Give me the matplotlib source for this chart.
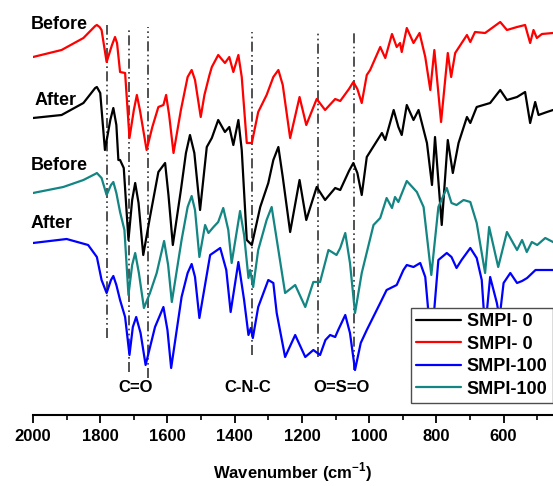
import numpy as np
import matplotlib
matplotlib.use('Agg')
import matplotlib.pyplot as plt
from matplotlib.ticker import MultipleLocator

plt.rcParams['font.family'] = ['Liberation Sans', 'DejaVu Sans']
plt.rcParams['font.weight'] = 'bold'
plt.rcParams['mathtext.fontset'] = 'custom'
plt.rcParams['mathtext.rm'] = 'Liberation Sans:bold'
plt.rcParams['mathtext.bf'] = 'Liberation Sans:bold'

# SMPI-0 before (red)
wn_red = [2000, 1915, 1850, 1815, 1810, 1802, 1796, 1781, 1765, 1756, 1750, 1741, 1726, 1713,
          1700, 1691, 1682, 1662, 1645, 1627, 1612, 1604, 1595, 1582, 1560, 1540, 1528, 1518,
          1501, 1490, 1475, 1468, 1449, 1429, 1416, 1404, 1389, 1379, 1364, 1349, 1330, 1305,
          1285, 1270, 1257, 1235, 1207, 1187, 1156, 1131, 1101, 1086, 1060, 1047, 1035, 1022,
          1007, 997, 967, 952, 932, 918, 908, 903, 888, 868, 850, 833, 818, 806, 786, 766, 756,
          744, 709, 699, 685, 655, 610, 590, 560, 536, 521, 511, 501, 486, 453]
t_red = [3.58, 3.65, 3.77, 3.89, 3.90, 3.88, 3.85, 3.53, 3.70, 3.78, 3.72, 3.43, 3.42, 2.77,
         3.05, 3.20, 3.05, 2.65, 2.88, 3.08, 3.10, 3.20, 3.00, 2.62, 3.05, 3.38, 3.45, 3.35,
         2.98, 3.20, 3.40, 3.48, 3.60, 3.52, 3.58, 3.43, 3.60, 3.38, 2.72, 2.72, 3.03, 3.20,
         3.38, 3.45, 3.30, 2.77, 3.18, 2.90, 3.16, 3.05, 3.16, 3.14, 3.26, 3.33, 3.26, 3.12,
         3.40, 3.45, 3.68, 3.57, 3.81, 3.68, 3.72, 3.63, 3.87, 3.72, 3.82, 3.58, 3.25, 3.65,
         2.93, 3.62, 3.38, 3.62, 3.80, 3.73, 3.83, 3.82, 3.93, 3.85, 3.88, 3.90, 3.72, 3.85,
         3.77, 3.81, 3.82]

# SMPI-0 after (black)
wn_blk = [2000, 1915, 1850, 1815, 1810, 1800, 1786, 1770, 1761, 1752, 1746, 1741, 1730, 1716,
          1705, 1696, 1686, 1672, 1652, 1627, 1607, 1597, 1584, 1560, 1545, 1533, 1520, 1503,
          1483, 1468, 1449, 1429, 1416, 1404, 1389, 1379, 1364, 1349, 1324, 1300, 1285, 1270,
          1257, 1235, 1207, 1187, 1156, 1131, 1101, 1086, 1060, 1047, 1035, 1022, 1007, 962,
          952, 927, 913, 903, 888, 868, 853, 828, 813, 804, 784, 766, 751, 734, 709, 699, 680,
          640, 610, 590, 560, 536, 521, 506, 496, 471, 453]
t_blk = [2.97, 3.00, 3.12, 3.27, 3.28, 3.22, 2.65, 2.95, 3.07, 2.90, 2.55, 2.55, 2.47, 1.75,
         2.15, 2.32, 2.12, 1.60, 1.98, 2.43, 2.52, 2.20, 1.70, 2.25, 2.62, 2.80, 2.62, 2.05,
         2.68, 2.77, 2.95, 2.83, 2.88, 2.70, 2.95, 2.65, 1.75, 1.70, 2.08, 2.32, 2.55, 2.68,
         2.38, 1.83, 2.35, 1.95, 2.28, 2.15, 2.27, 2.25, 2.44, 2.52, 2.42, 2.20, 2.58, 2.82,
         2.75, 3.05, 2.88, 2.80, 3.10, 2.95, 3.05, 2.72, 2.30, 2.78, 1.90, 2.75, 2.42, 2.72,
         2.98, 2.92, 3.08, 3.12, 3.25, 3.15, 3.18, 3.23, 2.92, 3.13, 3.00, 3.03, 3.05]

# SMPI-100 before (teal)
wn_teal = [2000, 1910, 1850, 1815, 1810, 1796, 1781, 1768, 1761, 1752, 1741, 1728, 1716, 1705,
           1696, 1685, 1670, 1652, 1632, 1610, 1598, 1587, 1558, 1540, 1528, 1518, 1505, 1488,
           1478, 1463, 1449, 1434, 1419, 1409, 1384, 1372, 1359, 1354, 1345, 1330, 1305, 1290,
           1270, 1250, 1220, 1190, 1166, 1146, 1121, 1111, 1097, 1086, 1071, 1057, 1042, 1022,
           987, 967, 948, 932, 923, 913, 888, 858, 838, 815, 794, 769, 755, 740, 719, 699, 680,
           655, 643, 616, 590, 560, 545, 531, 516, 500, 476, 453]
t_teal = [2.22, 2.28, 2.35, 2.41, 2.42, 2.37, 2.20, 2.30, 2.33, 2.22, 2.03, 1.85, 1.20, 1.50,
          1.62, 1.42, 1.07, 1.22, 1.42, 1.74, 1.50, 1.13, 1.75, 2.08, 2.19, 2.05, 1.58, 1.90,
          1.82, 1.88, 1.93, 2.07, 1.85, 1.52, 2.04, 1.80, 1.37, 1.45, 1.28, 1.65, 1.95, 2.08,
          1.65, 1.22, 1.30, 1.08, 1.33, 1.33, 1.65, 1.63, 1.60, 1.67, 1.82, 1.52, 1.02, 1.42,
          1.90, 1.97, 2.17, 2.07, 2.18, 2.13, 2.34, 2.23, 2.08, 1.40, 2.08, 2.27, 2.12, 2.10,
          2.15, 2.13, 1.92, 1.42, 1.88, 1.48, 1.83, 1.65, 1.75, 1.63, 1.73, 1.70, 1.77, 1.73]

# SMPI-100 after (blue)
wn_blue = [2000, 1900, 1836, 1810, 1796, 1781, 1768, 1761, 1752, 1741, 1726, 1713, 1703, 1693,
           1680, 1665, 1637, 1612, 1600, 1589, 1558, 1540, 1528, 1518, 1505, 1473, 1443, 1425,
           1412, 1389, 1372, 1359, 1352, 1346, 1330, 1300, 1285, 1275, 1250, 1220, 1190, 1166,
           1146, 1130, 1116, 1101, 1092, 1071, 1057, 1042, 1025, 1007, 967, 948, 918, 898, 888,
           868, 848, 833, 815, 794, 769, 755, 740, 725, 699, 680, 665, 655, 640, 620, 612, 600,
           580, 560, 545, 530, 505, 491, 453]
t_blue = [1.72, 1.76, 1.70, 1.58, 1.35, 1.22, 1.35, 1.39, 1.30, 1.15, 0.98, 0.60, 0.88, 0.98,
          0.82, 0.50, 0.88, 1.08, 0.85, 0.47, 1.18, 1.42, 1.51, 1.38, 0.97, 1.60, 1.67, 1.45,
          1.03, 1.53, 1.15, 0.80, 0.87, 0.77, 1.08, 1.35, 1.32, 1.02, 0.58, 0.80, 0.58, 0.65,
          0.60, 0.75, 0.80, 0.78, 0.85, 1.00, 0.82, 0.45, 0.72, 0.85, 1.12, 1.25, 1.30, 1.45,
          1.50, 1.48, 1.52, 1.38, 0.70, 1.55, 1.62, 1.58, 1.47, 1.55, 1.67, 1.57, 1.35, 0.85,
          1.38, 1.12, 0.97, 1.32, 1.42, 1.32, 1.34, 1.37, 1.45, 1.45, 1.45]

# marker lines (position, top, bottom) and group labels
vl_pos = [1779, 1713, 1657, 1349, 1151, 1045]
vl_top = [3.90, 3.88, 3.88, 3.83, 3.84, 3.84]
vl_bot = [0.77, 0.43, 0.37, 0.60, 0.58, 0.45]
grp_txt = ['C=O', 'C-N-C', 'O=S=O']
grp_x = [1695, 1362, 1083]
side_txt = ['Before', 'After', 'Before', 'After']
side_y = [3.91, 3.15, 2.50, 1.92]
side_x = [2006, 1994, 2006, 2006]

fig = plt.figure(figsize=(5.53, 4.86), dpi=100)
ax = fig.add_axes([33/553., 71/486., 520/553., 415/486.])

kw = dict(lw=1.6, solid_joinstyle='round', solid_capstyle='round')
l1, = ax.plot(wn_blk, t_blk, color='black', **kw)
l2, = ax.plot(wn_red, t_red, color='#ff0000', **kw)
l3, = ax.plot(wn_blue, t_blue, color='#0000ff', **kw)
l4, = ax.plot(wn_teal, t_teal, color='#138583', **kw)

for i in range(len(vl_pos)):
    ax.plot([vl_pos[i], vl_pos[i]], [vl_bot[i], vl_top[i]], color='0.2', lw=1.2,
            ls=(0, (6, 2, 1, 2, 1, 2)), zorder=1)

for i in range(len(grp_txt)):
    ax.text(grp_x[i], 0.28, grp_txt[i], ha='center', va='center', fontsize=12, fontweight='bold')

for i in range(len(side_txt)):
    ax.text(side_x[i], side_y[i], side_txt[i], ha='left', va='center', fontsize=13,
            fontweight='bold')

lg = ax.legend([l1, l2, l3, l4], ['SMPI- 0', 'SMPI- 0', 'SMPI-100', 'SMPI-100'],
               loc='lower right', bbox_to_anchor=(1.0, 0.029), fancybox=False,
               edgecolor='0.3', framealpha=1, fontsize=13, handlelength=2.5,
               handletextpad=0.3, labelspacing=0.3, borderpad=0.3, borderaxespad=0)
lg.get_frame().set_linewidth(1.0)
lg.set_zorder(5)

ax.set_xlim(2000, 453)
ax.set_ylim(0, 4.15)
ax.xaxis.set_major_locator(MultipleLocator(200))
ax.xaxis.set_minor_locator(MultipleLocator(100))
ax.set_yticks([])
for s in ['top', 'left', 'right']:
    ax.spines[s].set_visible(False)
ax.spines['bottom'].set_linewidth(1.5)
ax.tick_params(axis='x', which='major', length=6, width=1.3, labelsize=12, pad=4)
ax.tick_params(axis='x', which='minor', length=3.5, width=1.2)
for t in ax.get_xticklabels():
    t.set_fontweight('bold')
ax.set_xlabel('Wavenumber (cm$^{\\mathbf{-1}}$)', fontsize=12, fontweight='bold', labelpad=12)

fig.savefig('out.png', dpi=100)
